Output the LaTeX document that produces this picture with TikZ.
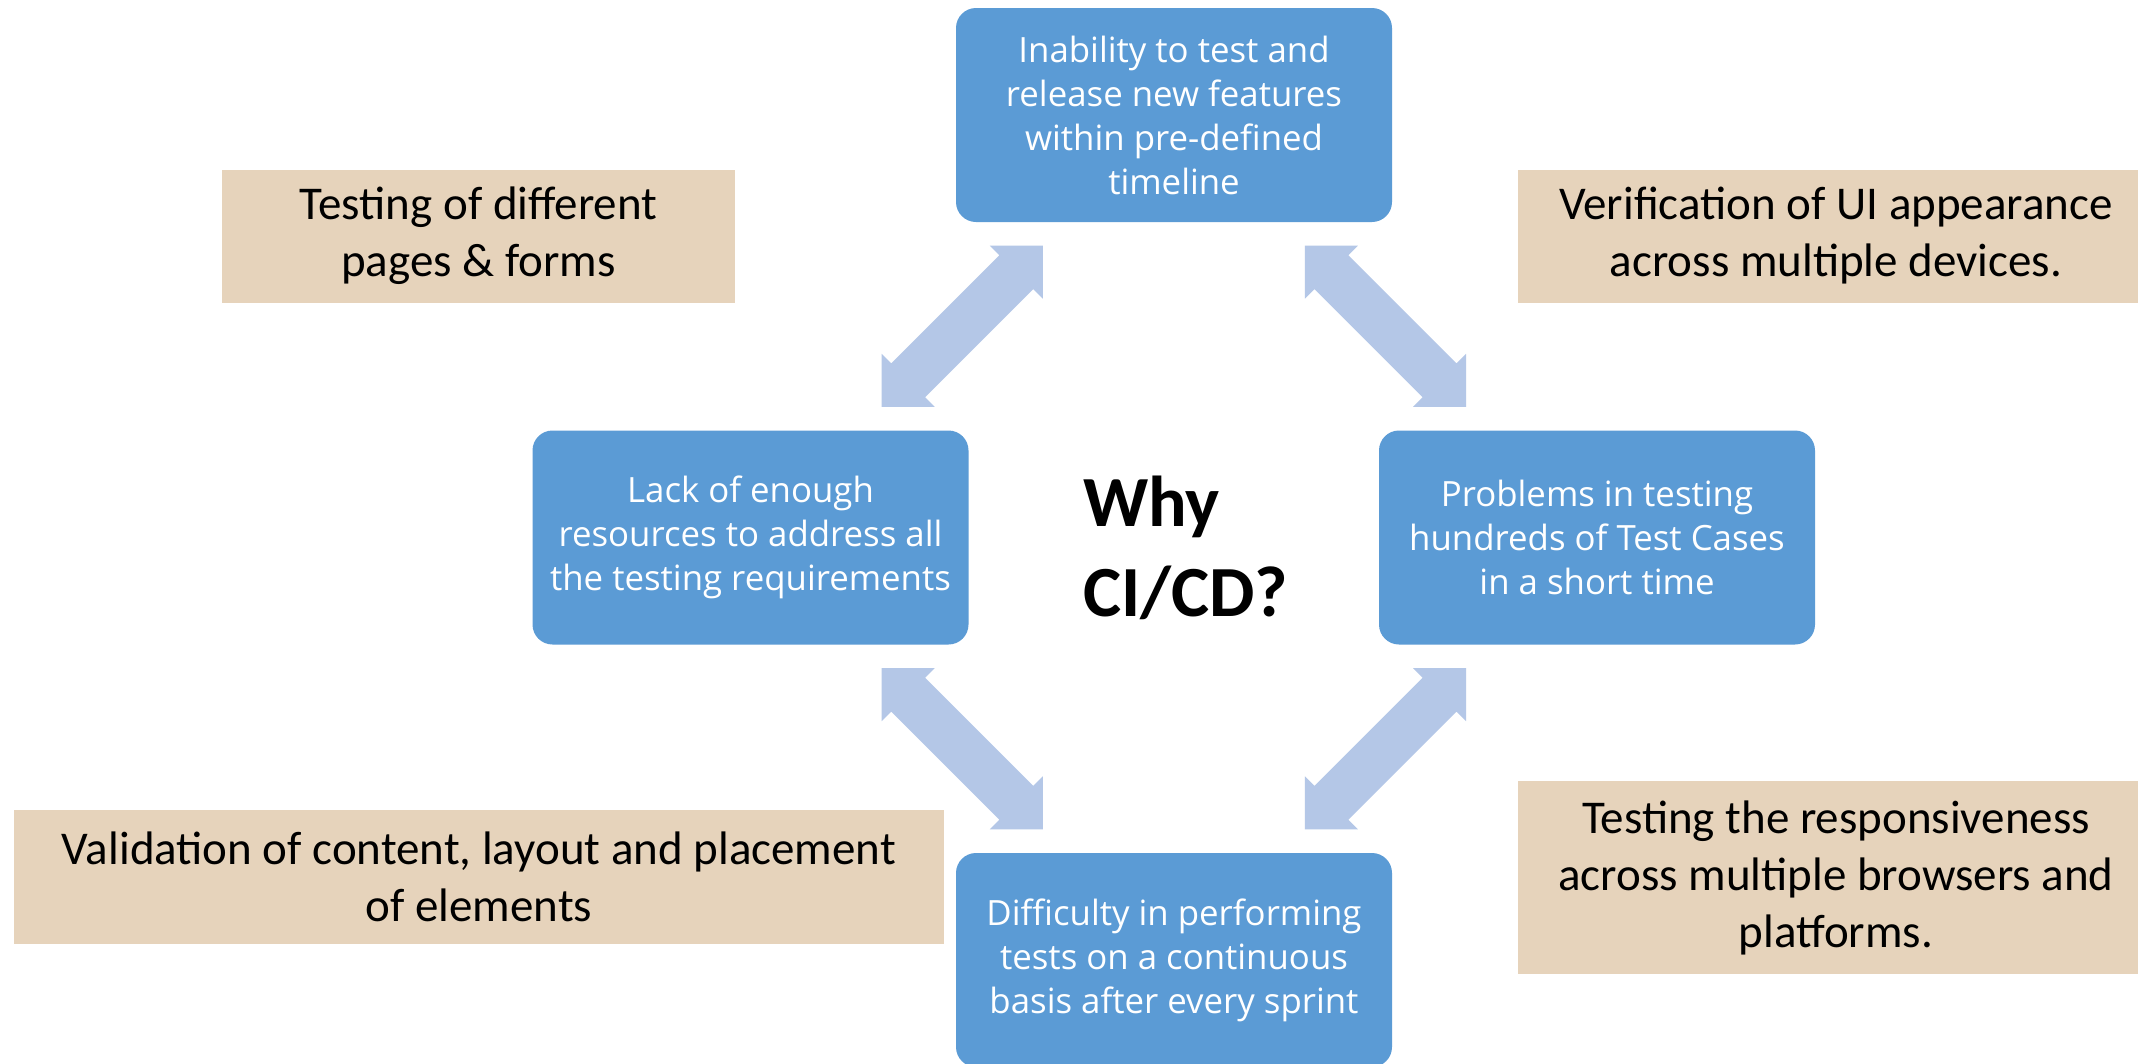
\documentclass[tikz,border=0pt]{standalone}
\usepackage{fontspec}
\setmainfont{Carlito}
\newfontfamily\bluefont{Open Sans}
\usetikzlibrary{calc}
\definecolor{boxblue}{HTML}{5B9BD5}
\definecolor{arrowblue}{HTML}{B4C7E7}
\definecolor{tanbox}{HTML}{E6D3BB}
\begin{document}
\begin{tikzpicture}[x=1pt,y=-1pt,
  bluebox/.style={fill=boxblue, rounded corners=20pt, text=white,
    font=\bluefont\fontsize{34.8}{44}\selectfont, align=center,
    minimum width=436pt, minimum height=214pt, inner sep=0pt},
  tannote/.style={fill=tanbox, text=black,
    font=\fontsize{47}{57}\selectfont, align=center, inner sep=0pt},
  dblarrow/.pic={\fill[arrowblue] (114,0) -- (76.5,37.5) -- (76.5,24) -- (-76.5,24)
      -- (-76.5,37.5) -- (-114,0) -- (-76.5,-37.5) -- (-76.5,-24) -- (76.5,-24)
      -- (76.5,-37.5) -- cycle;}
]
\useasboundingbox (0,0) rectangle (2138,1063);
\clip (0,0) rectangle (2138,1063);
\fill[white] (0,0) rectangle (2138,1063);

% blue boxes
\node[bluebox] (top) at (1174,115) {Inability to test and\\release new features\\within pre-defined\\timeline};
\node[bluebox] (left) at (750.5,537.5) {Lack of enough\\resources to address all\\the testing requirements};
\node[bluebox] (right) at (1597,537.5) {Problems in testing\\hundreds of Test Cases\\in a short time};
\node[bluebox] (bottom) at (1174,960) {Difficulty in performing\\tests on a continuous\\basis after every sprint};

% arrows between boxes
\pic[rotate=45] at ($(top)!0.5!(left)$) {dblarrow};
\pic[rotate=-45] at ($(top)!0.5!(right)$) {dblarrow};
\pic[rotate=-45] at ($(left)!0.5!(bottom)$) {dblarrow};
\pic[rotate=45] at ($(right)!0.5!(bottom)$) {dblarrow};

% tan notes
\node[tannote, minimum width=513pt, minimum height=133pt] (tl) at (478.5,236) {Testing of different\\pages \& forms};
\node[tannote, minimum width=636pt, minimum height=133pt] (tr) at (1836,236) {Verification of UI appearance\\across multiple devices.};
\node[tannote, minimum width=930pt, minimum height=134pt] (bl) at (479,877) {Validation of content, layout and placement\\of elements};
\node[tannote, minimum width=636pt, minimum height=193pt] (br) at (1836,877.5) {Testing the responsiveness\\across multiple browsers and\\platforms.};

% centre title
\node[anchor=west, align=left, inner sep=0pt, font=\bfseries\fontsize{72}{90}\selectfont] (why) at (1083,548) {Why\\CI/CD?};
\end{tikzpicture}
\end{document}
